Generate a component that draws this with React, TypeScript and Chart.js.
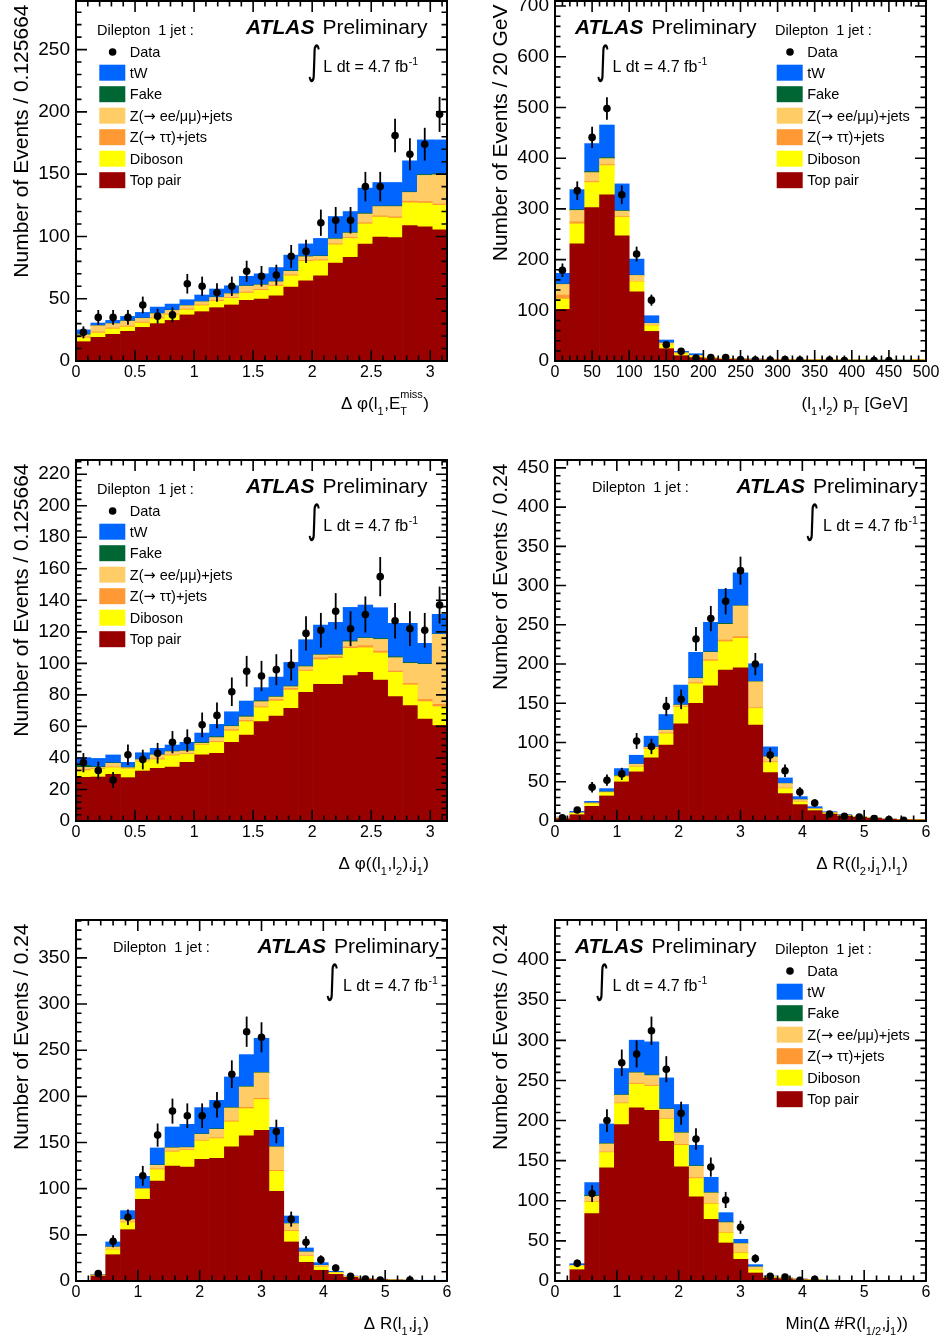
import React, { useEffect, useRef } from "react";
import { Chart, registerables } from "chart.js";

Chart.register(...registerables);

const FONT = '"Liberation Sans", Arial, Helvetica, sans-serif';

// ---------------- samples (stack order: bottom -> top) ----------------
const SAMPLE_NAMES = ["Top pair", "Diboson", "Z(\u2192 \u03c4\u03c4)+jets", "Z(\u2192 ee/\u03bc\u03bc)+jets", "Fake", "tW"];
const SAMPLE_COLORS = ["#990000", "#ffff00", "#ff9933", "#ffcc66", "#006633", "#0066ff"];
const LEGEND_ORDER = [5, 4, 3, 2, 1, 0];

// ---------------- Panel 1 : delta phi(l1, MET) ----------------
const dphiMetBinWidth = 0.125664;
const dphiMetXTicks = [0, 0.5, 1, 1.5, 2, 2.5, 3];
const dphiMetYTicks = [0, 50, 100, 150, 200, 250];
const dphiMetTopPair = [15.5, 19, 21.4, 23.8, 27, 30, 32.6, 37, 39.6, 42.8, 45, 48.7, 49.7, 52.4, 59.4, 64.4, 68.4, 78.6, 83.2, 93.9, 99.5, 99, 108.8, 107.8, 105.3];
const dphiMetDiboson = [3, 3.5, 4.3, 3.5, 3.5, 4, 4.4, 4, 4.8, 5.1, 5.3, 5.8, 7, 7.6, 9, 15.6, 12.1, 14.7, 15.2, 16.1, 16, 15.7, 18.2, 18.9, 19.7];
const dphiMetZtautau = [1, 0.8, 0.8, 0.7, 0.7, 0.7, 0.7, 0.7, 0.7, 0.7, 0.7, 0.8, 0.8, 0.8, 0.8, 0.8, 0.8, 0.8, 0.8, 1, 1, 1, 1.3, 1.3, 1];
const dphiMetZll = [1.5, 5, 3.5, 4, 3, 3.3, 2.9, 2.7, 2.5, 2.4, 3, 4.7, 3.5, 2.8, 2.8, 2.9, 2.7, 3.8, 3.5, 7, 7.5, 8.3, 7, 21, 23.5];
const dphiMetFake = [0.5, 0.3, 0.3, 0.3, 0.3, 0.3, 0.3, 0.3, 0.3, 0.3, 0.3, 0.4, 0.4, 0.4, 0.5, 0.5, 0.5, 0.5, 0.5, 0.7, 0.5, 0.5, 0.5, 0.7, 0.7];
const dphiMetTW = [3.5, 1.9, 2.3, 3.5, 4.5, 5, 4.8, 4.5, 5.1, 6.5, 6.1, 7.6, 8.6, 11, 12.5, 9.8, 13.9, 17.6, 16.8, 20.1, 18.8, 18.8, 24.9, 27.8, 27.3];
const dphiMetData = [23, 35, 35, 35, 45, 36, 37, 62, 60, 55, 60, 72, 68, 69, 84, 88, 111, 113, 113, 140, 140, 181, 166, 174, 198];

// ---------------- Panel 2 : (l1,l2) pT ----------------
const ptllBinWidth = 20;
const ptllXTicks = [0, 50, 100, 150, 200, 250, 300, 350, 400, 450, 500];
const ptllYTicks = [0, 100, 200, 300, 400, 500, 600, 700];
const ptllTopPair = [102, 231, 302.7, 327.6, 247, 136.6, 58.4, 24.3, 10.5, 6.6, 4.6, 3.4, 2.9, 2.5, 2.2, 2, 1.9, 1.7, 1.6, 1.5, 1.4, 1.3, 1.2, 1.1, 1.6];
const ptllDiboson = [20, 39.5, 49.3, 57.8, 36.6, 19.7, 11.2, 7.9, 3.9, 2.6, 1.5, 0.8, 0.7, 0.6, 0.5, 0.5, 0.4, 0.4, 0.4, 0.4, 0.3, 0.3, 0.3, 0.3, 0.5];
const ptllZtautau = [8, 4, 2, 2, 1.4, 0.7, 0.5, 0.3, 0.2, 0.2, 0.1, 0.1, 0.1, 0.1, 0.1, 0.1, 0.1, 0.1, 0.1, 0.1, 0.1, 0.1, 0.1, 0.1, 0.1];
const ptllZll = [21, 22.5, 17.6, 11.8, 10.5, 11.7, 4.1, 3, 1.8, 1.6, 0.6, 0.4, 0.3, 0.3, 0.3, 0.3, 0.3, 0.3, 0.3, 0.3, 0.3, 0.3, 0.3, 0.3, 0.5];
const ptllFake = [1, 1.5, 2, 2, 1.3, 0.7, 0.4, 0.2, 0.1, 0.1, 0.1, 0.1, 0, 0, 0, 0, 0, 0, 0, 0, 0, 0, 0, 0, 0];
const ptllTW = [21, 39.5, 55.2, 64.3, 52.5, 31.6, 14.7, 5.7, 2.6, 3.3, 0.3, 0.6, 0.5, 0.4, 0.3, 0.3, 0.3, 0.3, 0.2, 0.2, 0.2, 0.2, 0.2, 0.2, 0.3];
const ptllData = [179, 336, 441, 498, 328, 211, 120, 32, 19, 6, 7, 7, 3, 2, 2, 3, 2, null, 2, 1, null, 1, 1, null, null];

// ---------------- Panel 3 : delta phi((l1,l2), j1) ----------------
const dphiLLJBinWidth = 0.125664;
const dphiLLJXTicks = [0, 0.5, 1, 1.5, 2, 2.5, 3];
const dphiLLJYTicks = [0, 20, 40, 60, 80, 100, 120, 140, 160, 180, 200, 220];
const dphiLLJTopPair = [27.7, 27.9, 29.6, 27.5, 31.7, 33.4, 34.2, 37.2, 41.9, 42.9, 49.9, 54.5, 63, 66.6, 71.5, 81.6, 86.7, 86.7, 92.2, 94.3, 89.4, 78.9, 73.2, 64.7, 60.5];
const dphiLLJDiboson = [4.2, 4.9, 4.2, 5.5, 5.9, 5.5, 7.2, 5.1, 6.3, 7, 7.2, 8.5, 8.9, 9.5, 11.6, 13.5, 15.6, 16.5, 17.3, 15.6, 17.2, 15.4, 13.1, 11, 12];
const dphiLLJZtautau = [0.9, 0.4, 0.5, 0.3, 0.4, 0.6, 0.6, 0.5, 0.4, 0.6, 0.8, 0.8, 0.6, 1, 1, 0.6, 1.3, 1, 1, 1.3, 1.2, 0.8, 1, 1.5, 1.5];
const dphiLLJZll = [1.2, 0.8, 2.3, 0.5, 0.9, 2.4, 2, 1.6, 0.7, 2.4, 2.1, 2.2, 3.2, 1.5, 1.1, 2.2, 1.7, 1.1, 3.2, 4.7, 7.4, 8.5, 12.7, 22.2, 44.4];
const dphiLLJFake = [1.3, 0.5, 0.4, 0.3, 0.3, 0.3, 0.3, 0.3, 0.6, 0.6, 0.4, 0.6, 0.6, 0.4, 0.4, 0.4, 0.4, 0.4, 0.6, 0.4, 0.6, 0.6, 0.6, 0.4, 0.2];
const dphiLLJTW = [4.9, 5.2, 4.9, 3.1, 4.1, 3.9, 3.9, 5.2, 5.9, 7.8, 8.9, 9.5, 8.3, 12.3, 15, 16.7, 18.6, 20.3, 21.2, 20.7, 19.5, 21.2, 24.8, 12.9, 12.5];
const dphiLLJData = [37, 32, 26, 42, 39, 43, 50, 51, 61, 67, 82, 95, 92, 96, 99, 119, 121, 133, 122, 131, 155, 127, 122, 121, 137];

// ---------------- Panel 4 : delta R((l2,j1), l1) ----------------
const dRLJLBinWidth = 0.24;
const dRLJLXTicks = [0, 1, 2, 3, 4, 5, 6];
const dRLJLYTicks = [0, 50, 100, 150, 200, 250, 300, 350, 400, 450];
const dRLJLTopPair = [3, 8, 18.7, 31.9, 49.8, 62.6, 80.4, 96.6, 123.8, 149.8, 172.3, 192.3, 195.3, 122.1, 61.7, 34.9, 20.9, 13.2, 8.9, 6.4, 4.7, 3.4, 2.1, 1.5, 1.3];
const dRLJLDiboson = [0.8, 1.8, 3, 4.3, 6.4, 6.3, 11.1, 14.5, 21.3, 25.1, 31.5, 36.2, 37.5, 21.3, 12.8, 6.4, 3.4, 1.7, 1.2, 0.7, 0.4, 0.3, 0.2, 0.1, 0.1];
const dRLJLZtautau = [0.2, 0.2, 0.3, 0.3, 0.4, 0.8, 0.8, 1, 0.9, 1.4, 1.7, 2.1, 2.1, 0.9, 0.9, 0.8, 0.4, 0.3, 0.1, 0.1, 0, 0, 0, 0, 0];
const dRLJLZll = [0.5, 0.6, 1, 0.5, 0.8, 2.6, 1.7, 3.6, 1.7, 5.4, 9.4, 20, 39.1, 33.1, 6.3, 5.6, 2.5, 0.5, 0.4, 0.2, 0.2, 0.1, 0.1, 0.1, 0.1];
const dRLJLFake = [0.1, 0.1, 0.2, 0.3, 0.9, 0.4, 0.4, 0.4, 0.5, 0.8, 0.8, 1.3, 0.4, 0.4, 0.4, 0.2, 0.2, 0.1, 0.1, 0.1, 0, 0, 0, 0, 0];
const dRLJLTW = [0.4, 1.6, 1.9, 4, 8.5, 11.1, 13.7, 19.6, 25, 32.4, 37.5, 43.4, 41.8, 22.6, 12.4, 7, 3.7, 2.5, 1.2, 0.6, 0.2, 0.3, 0.2, 0.1, 0.1];
const dRLJLData = [4, 14, 43, 52, 60, 102, 95, 146, 155, 232, 258, 280, 319, 200, 84, 64, 37, 23, 9, 6, 5, 3, 2, 1, null];

// ---------------- Panel 5 : delta R(l1, j1) ----------------
const dRLJBinWidth = 0.24;
const dRLJXTicks = [0, 1, 2, 3, 4, 5, 6];
const dRLJYTicks = [0, 50, 100, 150, 200, 250, 300, 350];
const dRLJTopPair = [0, 5.4, 28.5, 55.6, 88.5, 108.3, 124.6, 123.5, 131.8, 132.9, 145.2, 157.1, 163.2, 97.1, 42.3, 20.2, 11.6, 7.2, 4, 2.2, 1.5, 1, 0.8, 0.6, 0.6];
const dRLJDiboson = [0, 0.6, 5.4, 7.6, 10.8, 12.3, 15.2, 18.1, 19.9, 21.3, 27.1, 29.6, 33.3, 21.7, 11.5, 6.5, 3.6, 1.5, 0.6, 0.3, 0.2, 0.1, 0, 0, 0];
const dRLJZtautau = [0, 0.1, 0.5, 0.8, 0.3, 0.9, 1, 0.8, 0.8, 1, 1.1, 1.5, 1.4, 1.1, 0.8, 0.6, 0.4, 0.2, 0, 0, 0, 0, 0, 0, 0];
const dRLJZll = [0, 0.5, 2.4, 2.5, 0.4, 3.8, 3.3, 2.1, 6.4, 9.1, 14, 22, 27.5, 25.3, 7.5, 4.1, 1.4, 0.5, 0.3, 0.2, 0, 0, 0, 0, 0];
const dRLJFake = [0, 0.1, 0.3, 0.6, 0.4, 0.5, 0.5, 0.5, 0.5, 0.7, 0.7, 0.7, 0.7, 0.4, 0.3, 0.2, 0.1, 0.1, 0, 0, 0, 0, 0, 0, 0];
const dRLJTW = [0, 0.2, 5.2, 9.1, 13, 18.3, 22.2, 24.7, 28.4, 30.7, 32.9, 34.3, 36.8, 20.9, 8, 4.2, 2.8, 1, 0.5, 0.3, 0.3, 0.2, 0.2, 0.2, 0.2];
const dRLJData = [null, 8, 43, 69, 114, 158, 184, 179, 179, 191, 224, 270, 264, 162, 67, 42, 23, 14, 5, 2, 1, null, 1, null, null];

// ---------------- Panel 6 : min delta R(l1/2, j1) ----------------
const minDRBinWidth = 0.24;
const minDRXTicks = [0, 1, 2, 3, 4, 5, 6];
const minDRYTicks = [0, 50, 100, 150, 200, 250, 300, 350, 400];
const minDRTopPair = [0, 14.1, 84, 141, 195, 215.8, 212.9, 174.2, 142.2, 104.8, 76.9, 47.4, 27, 10, 3.7, 2.9, 1.6, 1, 0.8, 0.6, 0.5, 0.5, 0.4, 0.4, 0.4];
const minDRDiboson = [0, 4.2, 14.5, 19.1, 26.2, 29.5, 29.9, 27.5, 27, 22.9, 19.1, 12.5, 7.9, 4.1, 1.3, 0.8, 0.4, 0.3, 0.1, 0.1, 0, 0, 0, 0, 0];
const minDRZtautau = [0, 0.3, 0.8, 0.8, 0.8, 1.2, 1.2, 0.8, 1.2, 1.2, 0.8, 0.8, 0.8, 0.4, 0.2, 0.1, 0, 0, 0, 0, 0, 0, 0, 0, 0];
const minDRZll = [0, 0.9, 6.3, 10, 9.6, 13, 12.1, 11.6, 14.2, 14.1, 13, 12.1, 10.9, 3, 0.6, 0.5, 0.3, 0.2, 0.1, 0, 0, 0, 0, 0, 0];
const minDRFake = [0, 0.2, 1.3, 0.8, 0.8, 0.8, 0.8, 0.8, 0.8, 0.8, 0.8, 0.8, 0.5, 0.2, 0.1, 0.1, 0, 0, 0, 0, 0, 0, 0, 0, 0];
const minDRTW = [0, 1.9, 15.8, 24.1, 32.5, 39.9, 41.2, 38.3, 34.6, 25.4, 18.7, 11.6, 4.9, 2.7, 0.3, 0.2, 0.2, 0.1, 0.1, 0.1, 0.1, 0, 0, 0, 0];
const minDRData = [null, 22, 109, 200, 272, 283, 312, 264, 209, 177, 142, 101, 67, 28, 6, 5, 1, 2, null, null, null, null, null, null, null];

// ---------------- layout ----------------
const COL_LEFT = [0, 472];
const COL_W = 472;
const PLOT_X = [[76, 447], [555, 926]];
const ROW_TOP = [0, 455, 915];
const ROW_H = [455, 460, 426];
const PLOT_Y = [[1, 361], [460, 821], [920, 1281]];

type Seg = { t?: string; sub?: string; sup?: string };

interface PanelDef {
  id: string;
  col: number;
  row: number;
  nBins: number;
  binWidth: number;
  yMax: number;
  xTicks: number[];
  yTicks: number[];
  xMinor: number;
  yMinor: number;
  comps: number[][];
  data: (number | null)[];
  yTitle: string;
  xTitle: Seg[];
  atlasDx: number;
  headerDx: number;
  headerDy: number;
  intDx: number;
  lumiDx: number;
  legendDx: number | null;
}

const PANELS: PanelDef[] = [
  {
    id: "p1", col: 0, row: 0, nBins: 25, binWidth: dphiMetBinWidth, yMax: 289,
    xTicks: dphiMetXTicks, yTicks: dphiMetYTicks, xMinor: 0.1, yMinor: 10,
    comps: [dphiMetTopPair, dphiMetDiboson, dphiMetZtautau, dphiMetZll, dphiMetFake, dphiMetTW],
    data: dphiMetData,
    yTitle: "Number of Events / 0.125664",
    xTitle: [{ t: "\u0394 \u03c6(l" }, { sub: "1" }, { t: ",E" }, { sub: "T", sup: "miss" }, { t: ")" }],
    atlasDx: 170, headerDx: 21, headerDy: 33.5, intDx: 238, lumiDx: 247.3, legendDx: 23.3,
  },
  {
    id: "p2", col: 1, row: 0, nBins: 25, binWidth: ptllBinWidth, yMax: 710,
    xTicks: ptllXTicks, yTicks: ptllYTicks, xMinor: 10, yMinor: 20,
    comps: [ptllTopPair, ptllDiboson, ptllZtautau, ptllZll, ptllFake, ptllTW],
    data: ptllData,
    yTitle: "Number of Events / 20 GeV",
    xTitle: [{ t: "(l" }, { sub: "1" }, { t: ",l" }, { sub: "2" }, { t: ") p" }, { sub: "T" }, { t: " [GeV]" }],
    atlasDx: 20, headerDx: 220, headerDy: 33.5, intDx: 47.7, lumiDx: 57.5, legendDx: 221.7,
  },
  {
    id: "p3", col: 0, row: 1, nBins: 25, binWidth: dphiLLJBinWidth, yMax: 229,
    xTicks: dphiLLJXTicks, yTicks: dphiLLJYTicks, xMinor: 0.1, yMinor: 4,
    comps: [dphiLLJTopPair, dphiLLJDiboson, dphiLLJZtautau, dphiLLJZll, dphiLLJFake, dphiLLJTW],
    data: dphiLLJData,
    yTitle: "Number of Events / 0.125664",
    xTitle: [{ t: "\u0394 \u03c6((l" }, { sub: "1" }, { t: ",l" }, { sub: "2" }, { t: "),j" }, { sub: "1" }, { t: ")" }],
    atlasDx: 170, headerDx: 21, headerDy: 33.5, intDx: 238, lumiDx: 247.3, legendDx: 23.3,
  },
  {
    id: "p4", col: 1, row: 1, nBins: 25, binWidth: dRLJLBinWidth, yMax: 460,
    xTicks: dRLJLXTicks, yTicks: dRLJLYTicks, xMinor: 0.2, yMinor: 10,
    comps: [dRLJLTopPair, dRLJLDiboson, dRLJLZtautau, dRLJLZll, dRLJLFake, dRLJLTW],
    data: dRLJLData,
    yTitle: "Number of Events / 0.24",
    xTitle: [{ t: "\u0394 R((l" }, { sub: "2" }, { t: ",j" }, { sub: "1" }, { t: "),l" }, { sub: "1" }, { t: ")" }],
    atlasDx: 181.5, headerDx: 37, headerDy: 32, intDx: 257, lumiDx: 268, legendDx: null,
  },
  {
    id: "p5", col: 0, row: 2, nBins: 25, binWidth: dRLJBinWidth, yMax: 391,
    xTicks: dRLJXTicks, yTicks: dRLJYTicks, xMinor: 0.2, yMinor: 10,
    comps: [dRLJTopPair, dRLJDiboson, dRLJZtautau, dRLJZll, dRLJFake, dRLJTW],
    data: dRLJData,
    yTitle: "Number of Events / 0.24",
    xTitle: [{ t: "\u0394 R(l" }, { sub: "1" }, { t: ",j" }, { sub: "1" }, { t: ")" }],
    atlasDx: 181.5, headerDx: 37, headerDy: 31.5, intDx: 256, lumiDx: 267, legendDx: null,
  },
  {
    id: "p6", col: 1, row: 2, nBins: 25, binWidth: minDRBinWidth, yMax: 450,
    xTicks: minDRXTicks, yTicks: minDRYTicks, xMinor: 0.2, yMinor: 10,
    comps: [minDRTopPair, minDRDiboson, minDRZtautau, minDRZll, minDRFake, minDRTW],
    data: minDRData,
    yTitle: "Number of Events / 0.24",
    xTitle: [{ t: "Min(\u0394 #R(l" }, { sub: "1/2" }, { t: ",j" }, { sub: "1" }, { t: "))" }],
    atlasDx: 20, headerDx: 220, headerDy: 33.5, intDx: 46.7, lumiDx: 57.5, legendDx: 221.7,
  },
];

// ---------------- drawing helpers ----------------
function drawRich(ctx: CanvasRenderingContext2D, segs: Seg[], xRight: number, base: number, size: number, small: number) {
  const mainF = `${size}px ${FONT}`;
  const smallF = `${small}px ${FONT}`;
  const widths = segs.map((s) => {
    if (s.t !== undefined) {
      ctx.font = mainF;
      return ctx.measureText(s.t).width;
    }
    ctx.font = smallF;
    return Math.max(s.sub ? ctx.measureText(s.sub).width : 0, s.sup ? ctx.measureText(s.sup).width : 0) + 0.5;
  });
  let x = xRight - widths.reduce((a, b) => a + b, 0);
  segs.forEach((s, i) => {
    if (s.t !== undefined) {
      ctx.font = mainF;
      ctx.fillText(s.t, x, base);
    } else {
      ctx.font = smallF;
      if (s.sub) ctx.fillText(s.sub, x, base + size * 0.35);
      if (s.sup) ctx.fillText(s.sup, x, base - size * 0.62);
    }
    x += widths[i];
  });
}

// legend label: the arrow is drawn with a font whose arrow glyph is wide (like ROOT's symbol font)
function drawLabel(ctx: CanvasRenderingContext2D, text: string, x: number, base: number, size: number) {
  const parts = text.split("\u2192");
  let cx = x;
  parts.forEach((part, i) => {
    if (i > 0) {
      ctx.font = `${size}px "DejaVu Sans", ${FONT}`;
      ctx.fillText("\u2192", cx, base);
      cx += ctx.measureText("\u2192").width;
    }
    ctx.font = `${size}px ${FONT}`;
    ctx.fillText(part, cx, base);
    cx += ctx.measureText(part).width;
  });
}

function drawIntegral(ctx: CanvasRenderingContext2D, cx: number, yTop: number, yBot: number) {
  ctx.save();
  ctx.font = `30px "DejaVu Sans", ${FONT}`;
  const m = ctx.measureText("\u222b");
  const asc = m.actualBoundingBoxAscent || 24;
  const desc = m.actualBoundingBoxDescent || 6;
  const s = (yBot - yTop) / (asc + desc);
  ctx.translate(cx, yTop + asc * s);
  ctx.scale(0.9, s);
  ctx.textAlign = "center";
  ctx.textBaseline = "alphabetic";
  ctx.fillText("\u222b", 0, 0);
  ctx.restore();
}

function makeDecor(p: PanelDef) {
  const xMax = p.nBins * p.binWidth;
  const near = (arr: number[], v: number) => arr.some((t) => Math.abs(t - v) < 1e-6);
  return {
    id: "decor_" + p.id,
    afterDatasetsDraw(chart: any) {
      const ctx: CanvasRenderingContext2D = chart.ctx;
      const xs = chart.scales.x;
      const ys = chart.scales.y;
      ctx.save();
      ctx.strokeStyle = "#000";
      ctx.lineWidth = 1.8;
      p.data.forEach((v, i) => {
        if (v == null) return;
        const cx = xs.getPixelForValue((i + 0.5) * p.binWidth);
        const e = Math.sqrt(v);
        ctx.beginPath();
        ctx.moveTo(cx, ys.getPixelForValue(v + e));
        ctx.lineTo(cx, ys.getPixelForValue(Math.max(0, v - e)));
        ctx.stroke();
      });
      ctx.restore();
    },
    afterDraw(chart: any) {
      const ctx: CanvasRenderingContext2D = chart.ctx;
      const { left: L, top: T, right: R, bottom: B } = chart.chartArea;
      const xs = chart.scales.x;
      const ys = chart.scales.y;
      ctx.save();
      ctx.strokeStyle = "#000";
      ctx.fillStyle = "#000";
      // ticks
      ctx.lineWidth = 1.6;
      ctx.beginPath();
      for (let k = 0; k * p.yMinor <= p.yMax + 1e-9; k++) {
        const v = k * p.yMinor;
        const y = ys.getPixelForValue(v);
        const len = near(p.yTicks, v) ? 11 : 5.5;
        ctx.moveTo(L, y);
        ctx.lineTo(L + len, y);
        ctx.moveTo(R, y);
        ctx.lineTo(R - len, y);
      }
      for (let k = 0; k * p.xMinor <= xMax + 1e-9; k++) {
        const v = k * p.xMinor;
        const x = xs.getPixelForValue(v);
        const len = near(p.xTicks, v) ? 11 : 5.5;
        ctx.moveTo(x, B);
        ctx.lineTo(x, B - len);
        ctx.moveTo(x, T);
        ctx.lineTo(x, T + len);
      }
      ctx.stroke();
      // frame
      ctx.lineWidth = 2;
      ctx.strokeRect(L, T, R - L, B - T);

      ctx.textBaseline = "alphabetic";
      ctx.textAlign = "left";
      // y title
      ctx.save();
      ctx.translate(L - 48.5, T + 3.5);
      ctx.rotate(-Math.PI / 2);
      ctx.textAlign = "right";
      ctx.font = `21px ${FONT}`;
      ctx.fillText(p.yTitle, 0, 0);
      ctx.restore();
      // x title
      drawRich(ctx, p.xTitle, R - 18, B + 47.7, 17, 11);

      // ATLAS Preliminary
      ctx.font = `italic bold 21px ${FONT}`;
      ctx.fillText("ATLAS", L + p.atlasDx, T + 32.5);
      const aw = ctx.measureText("ATLAS").width;
      ctx.font = `21px ${FONT}`;
      ctx.fillText("Preliminary", L + p.atlasDx + aw + 8, T + 32.5);

      // header
      ctx.font = `14.5px ${FONT}`;
      ctx.fillText("Dilepton  1 jet :", L + p.headerDx, T + p.headerDy);

      // luminosity
      drawIntegral(ctx, L + p.intDx, T + 43, T + 82);
      ctx.font = `16px ${FONT}`;
      const lumi = "L dt = 4.7 fb";
      ctx.fillText(lumi, L + p.lumiDx, T + 70.7);
      const lw = ctx.measureText(lumi).width;
      ctx.font = `10.5px ${FONT}`;
      ctx.fillText("-1", L + p.lumiDx + lw + 0.5, T + 64);

      // legend
      if (p.legendDx != null) {
        const bx = L + p.legendDx;
        ctx.font = `14.5px ${FONT}`;
        const dy = T + 51;
        ctx.beginPath();
        ctx.arc(bx + 13.3, dy, 3.8, 0, Math.PI * 2);
        ctx.fill();
        ctx.fillText("Data", bx + 30.5, dy + 5.2);
        LEGEND_ORDER.forEach((k, j) => {
          const cy = T + 71.7 + 21.5 * j;
          ctx.fillStyle = SAMPLE_COLORS[k];
          ctx.fillRect(bx, cy - 8, 26, 16);
          ctx.fillStyle = "#000";
          drawLabel(ctx, SAMPLE_NAMES[k], bx + 30.5, cy + 5.2, 14.5);
        });
      }
      ctx.restore();
    },
  };
}

function buildConfig(p: PanelDef): any {
  const xMax = p.nBins * p.binWidth;
  const centers = p.comps[0].map((_, i) => (i + 0.5) * p.binWidth);
  const datasets: any[] = SAMPLE_NAMES.map((name, k) => ({
    type: "bar",
    label: name,
    data: p.comps[k].map((v, i) => ({ x: centers[i], y: v })),
    backgroundColor: SAMPLE_COLORS[k],
    borderWidth: 0,
    barPercentage: 1,
    categoryPercentage: 1,
    stack: "mc",
    order: 1,
  }));
  datasets.push({
    type: "line",
    label: "Data",
    data: p.data.map((v, i) => ({ x: centers[i], y: v })),
    showLine: false,
    pointRadius: 3.8,
    pointHoverRadius: 3.8,
    pointBackgroundColor: "#000",
    pointBorderColor: "#000",
    pointBorderWidth: 0,
    stack: "data",
    order: 0,
  });
  const yAxisW = PLOT_X[p.col][0] - COL_LEFT[p.col];
  const padR = COL_LEFT[p.col] + COL_W - PLOT_X[p.col][1];
  const padT = PLOT_Y[p.row][0] - ROW_TOP[p.row];
  const xAxisH = ROW_TOP[p.row] + ROW_H[p.row] - PLOT_Y[p.row][1];
  return {
    type: "bar",
    data: { datasets },
    options: {
      responsive: false,
      animation: false,
      devicePixelRatio: 1,
      events: [],
      layout: { padding: { left: 0, right: padR, top: padT, bottom: 0 }, autoPadding: false },
      plugins: { legend: { display: false }, tooltip: { enabled: false } },
      scales: {
        x: {
          type: "linear",
          min: 0,
          max: xMax,
          stacked: true,
          offset: false,
          grid: { display: false, drawTicks: false, offset: false },
          border: { display: false },
          ticks: {
            autoSkip: false,
            maxRotation: 0,
            minRotation: 0,
            padding: 4,
            color: "#000",
            font: { family: FONT, size: 16, lineHeight: 1 },
            callback: (v: number) => String(v),
          },
          afterBuildTicks: (s: any) => {
            s.ticks = p.xTicks.map((v) => ({ value: v }));
          },
          afterFit: (s: any) => {
            s.height = xAxisH;
            s.paddingLeft = 0;
            s.paddingRight = 0;
            s.paddingTop = 0;
            s.paddingBottom = 0;
          },
        },
        y: {
          type: "linear",
          min: 0,
          max: p.yMax,
          stacked: true,
          grid: { display: false, drawTicks: false },
          border: { display: false },
          ticks: {
            autoSkip: false,
            padding: 6,
            color: "#000",
            font: { family: FONT, size: 19, lineHeight: 1 },
            callback: (v: number) => String(v),
          },
          afterBuildTicks: (s: any) => {
            s.ticks = p.yTicks.map((v) => ({ value: v }));
          },
          afterFit: (s: any) => {
            s.width = yAxisW;
            s.paddingLeft = 0;
            s.paddingRight = 0;
            s.paddingTop = 0;
            s.paddingBottom = 0;
          },
        },
      },
    },
    plugins: [makeDecor(p)],
  };
}

function PanelChart({ p }: { p: PanelDef }) {
  const ref = useRef<HTMLCanvasElement>(null);
  useEffect(() => {
    if (!ref.current) return;
    const chart = new Chart(ref.current, buildConfig(p));
    return () => chart.destroy();
  }, [p]);
  const left = COL_LEFT[p.col];
  const top = ROW_TOP[p.row];
  const h = ROW_H[p.row];
  return (
    <canvas
      ref={ref}
      width={COL_W}
      height={h}
      style={{ position: "absolute", left, top, width: COL_W, height: h, display: "block" }}
    />
  );
}

export default function App() {
  return (
    <div style={{ position: "absolute", left: 0, top: 0, width: 944, height: 1341, background: "#fff", overflow: "hidden" }}>
      {PANELS.map((p) => (
        <PanelChart key={p.id} p={p} />
      ))}
    </div>
  );
}
